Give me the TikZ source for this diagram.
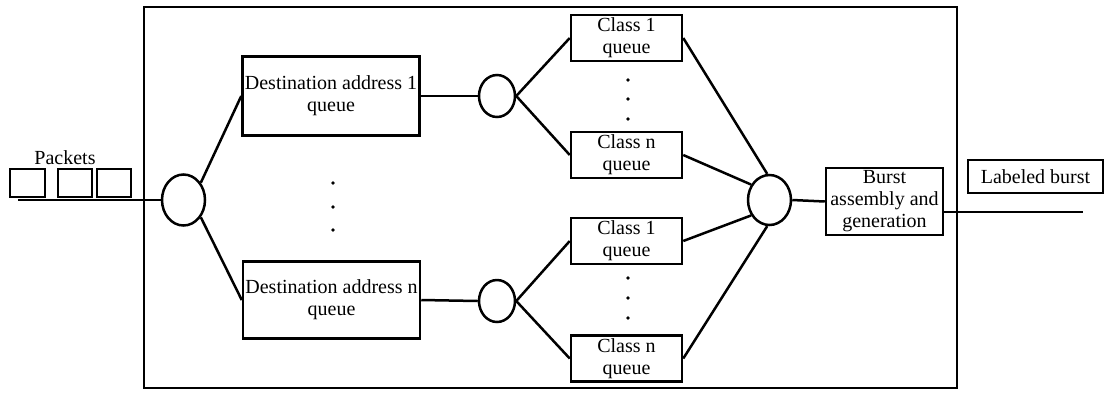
\documentclass[tikz,border=0pt]{standalone}
\usepackage{fontspec}
\setmainfont{Liberation Serif}
\usetikzlibrary{shapes.geometric,calc}
\tikzset{
  ln/.style={line width=2.5pt},
  qbox/.style={draw,line width=2.5pt,rectangle,inner sep=0pt,align=center,
    font=\fontsize{20}{22}\selectfont},
  pbox/.style={draw,line width=2.5pt,rectangle,inner sep=0pt},
  sw/.style={draw,line width=2.5pt,ellipse,inner sep=0pt},
  dotn/.style={circle,fill=black,inner sep=0pt,minimum size=3.6pt},
  lbl/.style={inner sep=0pt,font=\fontsize{20}{22}\selectfont}
}
\begin{document}
\begin{tikzpicture}[x=1pt,y=-1pt]
\useasboundingbox (0,0) rectangle (1105,392);
% frame
\node[draw,line width=2.5pt,rectangle,inner sep=0pt,minimum width=813pt,minimum height=381pt] (frame) at (550.5,197.5) {};
% packets
\node[lbl] (packets) at (65,158) {Packets};
\node[pbox,minimum width=35pt,minimum height=28pt] (p1) at (27.5,183) {};
\node[pbox,minimum width=34pt,minimum height=28pt] (p2) at (75,183) {};
\node[pbox,minimum width=34pt,minimum height=28pt] (p3) at (114,183) {};
\coordinate (inbeg) at (18,200);
% switches
\node[sw,minimum width=43pt,minimum height=51pt] (c1) at (183.5,200) {};
\node[sw,minimum width=36pt,minimum height=42pt] (c2) at (497,96) {};
\node[sw,minimum width=36pt,minimum height=42pt] (c3) at (497,301) {};
\node[sw,minimum width=43pt,minimum height=50pt] (big) at (769.5,200) {};
% destination queues
\node[qbox,minimum width=177pt,minimum height=79pt] (d1) at (331,96) {Destination address 1\\queue};
\node[qbox,minimum width=177pt,minimum height=77pt] (dn) at (331.5,300) {Destination address n\\queue};
% class queues
\node[qbox,minimum width=111pt,minimum height=46pt] (q11) at (626.5,38) {Class 1\\queue};
\node[qbox,minimum width=111pt,minimum height=46pt] (q1n) at (626.5,155) {Class n\\queue};
\node[qbox,minimum width=111pt,minimum height=46pt] (qn1) at (626.5,241) {Class 1\\queue};
\node[qbox,minimum width=111pt,minimum height=46pt] (qnn) at (626.5,358.5) {Class n\\queue};
% burst
\node[qbox,minimum width=117pt,minimum height=67pt] (burst) at (884.5,201.5) {Burst\\assembly and\\generation};
\node[qbox,minimum width=135pt,minimum height=33pt] (lab) at (1035.5,176.5) {Labeled burst};
\coordinate (outend) at (1083,212);
% dots
\node[dotn] (dd1) at (333,183) {};
\node[dotn] (dd2) at (333,207) {};
\node[dotn] (dd3) at (333,230) {};
\node[dotn] (da1) at (628,80) {};
\node[dotn] (da2) at (628,99) {};
\node[dotn] (da3) at (628,119) {};
\node[dotn] (db1) at (628,278) {};
\node[dotn] (db2) at (628,298) {};
\node[dotn] (db3) at (628,318) {};
% connectors
\draw[ln] (inbeg) -- (c1.west);
\draw[ln] (c1.45) -- (d1.west);
\draw[ln] (c1.-45) -- (dn.west);
\draw[ln] (d1.east) -- (c2.west);
\draw[ln] (dn.east) -- (c3.west);
\draw[ln] (c2.east) -- (q11.west);
\draw[ln] (c2.east) -- (q1n.west);
\draw[ln] (c3.east) -- (qn1.west);
\draw[ln] (c3.east) -- (qnn.west);
\draw[ln] (q11.east) -- (big.95);
\draw[ln] (q1n.east) -- (big.140);
\draw[ln] (qn1.east) -- (big.220);
\draw[ln] (qnn.east) -- (big.265);
\draw[ln] (big.east) -- (burst.west);
\draw[ln] ([yshift=-10.5pt]burst.east) -- (outend);
\end{tikzpicture}
\end{document}
